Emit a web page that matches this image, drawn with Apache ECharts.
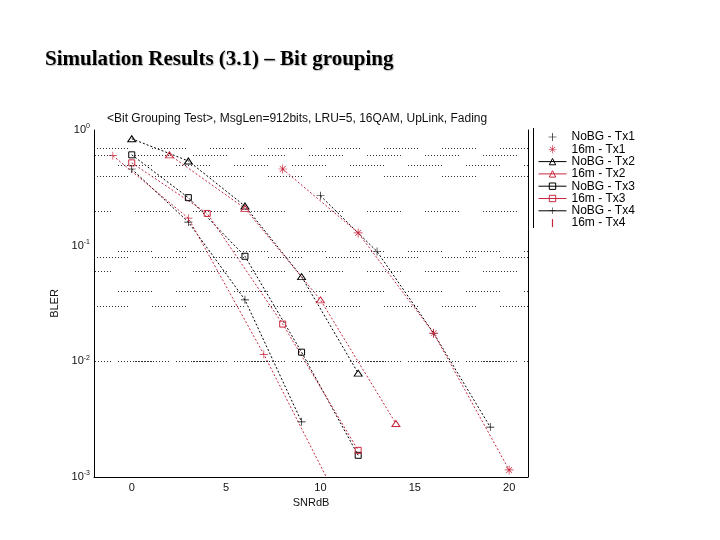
<!DOCTYPE html>
<html>
<head>
<meta charset="utf-8">
<script src="https://cdn.jsdelivr.net/npm/echarts@6/dist/echarts.min.js"></script>
<style>
html, body { margin: 0; padding: 0; background: #fff; }
#main { width: 720px; height: 540px; }
</style>
</head>
<body>
<div id="main"></div>
<script>
// SNR (dB) points and BLER values
const snrNoBGTx1 = [10, 13, 16, 19];
const blerNoBGTx1 = [0.27, 0.089, 0.0175, 0.0027];
const snr16mTx1 = [8, 12, 16, 20];
const bler16mTx1 = [0.46, 0.129, 0.0175, 0.00115];
const snrNoBGTx2 = [0, 3, 6, 9, 12];
const blerNoBGTx2 = [0.84, 0.54, 0.22, 0.054, 0.0079];
const snr16mTx2 = [2, 6, 10, 14];
const bler16mTx2 = [0.61, 0.21, 0.034, 0.0029];
const snrNoBGTx3 = [0, 3, 6, 9, 12];
const blerNoBGTx3 = [0.61, 0.26, 0.081, 0.012, 0.00154];
const snr16mTx3 = [0, 4, 8, 12];
const bler16mTx3 = [0.52, 0.19, 0.021, 0.0017];
const snrNoBGTx4 = [0, 3, 6, 9];
const blerNoBGTx4 = [0.46, 0.16, 0.034, 0.003];
const snr16mTx4 = [-1, 3, 7, 11];
const bler16mTx4 = [0.6, 0.173, 0.0115, 0.0006];

const xTicks = [0, 5, 10, 15, 20];
// horizontal dotted grid rows that show in the picture
const gridRows = [0.7, 0.6, 0.5, 0.4, 0.2, 0.09, 0.08, 0.06, 0.04, 0.03,
  0.006, 0.005, 0.004, 0.003, 0.002];

const RED = '#c8283f';
const BLACK = '#000';

const plusPath = 'path://M0,4.6H10V5.4H0ZM4.6,0H5.4V10H4.6Z';
const starPath = 'path://M0,4.6H10V5.4H0ZM4.6,0H5.4V10H4.6Z' +
  'M1.5,2L2,1.5L8.5,8L8,8.5ZM1.5,8L8,1.5L8.5,2L2,8.5Z';
const barPath = 'path://M4.4,1H5.6V9H4.4Z';

// dotted segments with gaps, like the old printout
const gridDash = [];
for (let i = 0; i < 11; i++) gridDash.push(1, 2);
gridDash.push(1, 24);

function pairs(xs, ys) {
  return xs.map((x, i) => [x, ys[i]]);
}

function curve(name, xs, ys, color, symbol, size) {
  const hollow = symbol === 'triangle' || symbol === 'rect';
  return {
    name: name,
    type: 'line',
    data: pairs(xs, ys),
    symbol: symbol,
    symbolSize: size,
    symbolKeepAspect: true,
    showSymbol: true,
    clip: true,
    z: 3,
    lineStyle: { color: color, width: 1, type: [2, 2] },
    itemStyle: hollow
      ? { color: 'rgba(255,255,255,0)', borderColor: color, borderWidth: 1 }
      : { color: color, borderWidth: 0 }
  };
}

const series = [
  curve('NoBG - Tx1', snrNoBGTx1, blerNoBGTx1, BLACK, plusPath, 8),
  curve('16m - Tx1', snr16mTx1, bler16mTx1, RED, starPath, 9),
  curve('NoBG - Tx2', snrNoBGTx2, blerNoBGTx2, BLACK, 'triangle', [8, 6]),
  curve('16m - Tx2', snr16mTx2, bler16mTx2, RED, 'triangle', [8, 6]),
  curve('NoBG - Tx3', snrNoBGTx3, blerNoBGTx3, BLACK, 'rect', 6),
  curve('16m - Tx3', snr16mTx3, bler16mTx3, RED, 'rect', 6),
  curve('NoBG - Tx4', snrNoBGTx4, blerNoBGTx4, BLACK, plusPath, 8),
  curve('16m - Tx4', snr16mTx4, bler16mTx4, RED, plusPath, 8),
  {
    name: 'grid',
    type: 'line',
    data: [],
    z: 1,
    silent: true,
    markLine: {
      silent: true,
      symbol: 'none',
      label: { show: false },
      emphasis: { disabled: true },
      lineStyle: { color: '#333', width: 1, type: gridDash },
      data: gridRows.map((v, i) => ({ yAxis: v, lineStyle: { dashOffset: (i % 3) * 17 } }))
    }
  }
];

const chart = echarts.init(document.getElementById('main'));
chart.setOption({
  animation: false,
  backgroundColor: '#fff',
  title: [
    {
      text: 'Simulation Results (3.1) \u2013 Bit grouping',
      left: 45,
      top: 49,
      padding: 0,
      textStyle: {
        fontFamily: 'Liberation Serif',
        fontWeight: 'bold',
        fontSize: 21,
        color: '#000',
        textShadowColor: 'rgba(0,0,0,0.25)',
        textShadowOffsetX: 1,
        textShadowOffsetY: 1,
        textShadowBlur: 1
      }
    },
    {
      text: '<Bit Grouping Test>, MsgLen=912bits, LRU=5, 16QAM, UpLink, Fading',
      left: 107,
      top: 113,
      padding: 0,
      textStyle: { fontFamily: 'Liberation Sans', fontWeight: 'normal', fontSize: 12, color: '#111' }
    }
  ],
  legend: {
    orient: 'vertical',
    left: 538,
    top: 131,
    padding: 0,
    itemWidth: 28,
    itemHeight: 8,
    itemGap: 0.3,
    textStyle: { fontFamily: 'Liberation Sans', fontSize: 12, lineHeight: 12, color: '#000' },
    lineStyle: { type: 'solid', width: 1 },
    itemStyle: { borderWidth: 1 },
    data: [
      { name: 'NoBG - Tx1', icon: plusPath },
      { name: '16m - Tx1', icon: starPath },
      'NoBG - Tx2',
      '16m - Tx2',
      'NoBG - Tx3',
      '16m - Tx3',
      'NoBG - Tx4',
      { name: '16m - Tx4', icon: barPath }
    ]
  },
  graphic: [
    {
      type: 'line',
      shape: { x1: 533.5, y1: 128, x2: 533.5, y2: 228 },
      style: { stroke: '#000', lineWidth: 1 }
    }
  ],
  grid: { left: 94, right: 192, top: 130, bottom: 63 },
  xAxis: {
    type: 'value',
    min: -2,
    max: 21,
    interval: 1,
    name: 'SNRdB',
    nameLocation: 'middle',
    nameGap: 17,
    nameTextStyle: { fontFamily: 'Liberation Sans', fontSize: 11, color: '#111' },
    axisLine: { onZero: false, lineStyle: { color: '#000', width: 1 } },
    axisTick: { show: false },
    splitLine: { show: false },
    axisLabel: {
      interval: 0,
      margin: 5,
      fontFamily: 'Liberation Sans',
      fontSize: 11,
      color: '#111',
      formatter: v => (xTicks.includes(v) ? String(v) : '')
    }
  },
  yAxis: [
    {
      type: 'log',
      logBase: 10,
      min: 0.001,
      max: 1,
      name: 'BLER',
      nameLocation: 'middle',
      nameGap: 31,
      nameTextStyle: { fontFamily: 'Liberation Sans', fontSize: 11, color: '#111' },
      axisLine: { show: true, onZero: false, lineStyle: { color: '#000', width: 1 } },
      axisTick: { show: false },
      splitLine: { show: false },
      axisLabel: {
        margin: 4,
        fontFamily: 'Liberation Sans',
        fontSize: 11,
        color: '#111',
        formatter: v => '10{s|' + Math.round(Math.log10(v)) + '}',
        rich: {
          s: { fontSize: 7, verticalAlign: 'top', padding: [0, 0, 7, 0], fontFamily: 'Liberation Sans', color: '#111' }
        }
      }
    },
    {
      type: 'log',
      logBase: 10,
      min: 0.001,
      max: 1,
      position: 'right',
      axisLine: { show: true, onZero: false, lineStyle: { color: '#000', width: 1 } },
      axisTick: { show: false },
      axisLabel: { show: false },
      splitLine: { show: false }
    }
  ],
  series: series
});
</script>
</body>
</html>
